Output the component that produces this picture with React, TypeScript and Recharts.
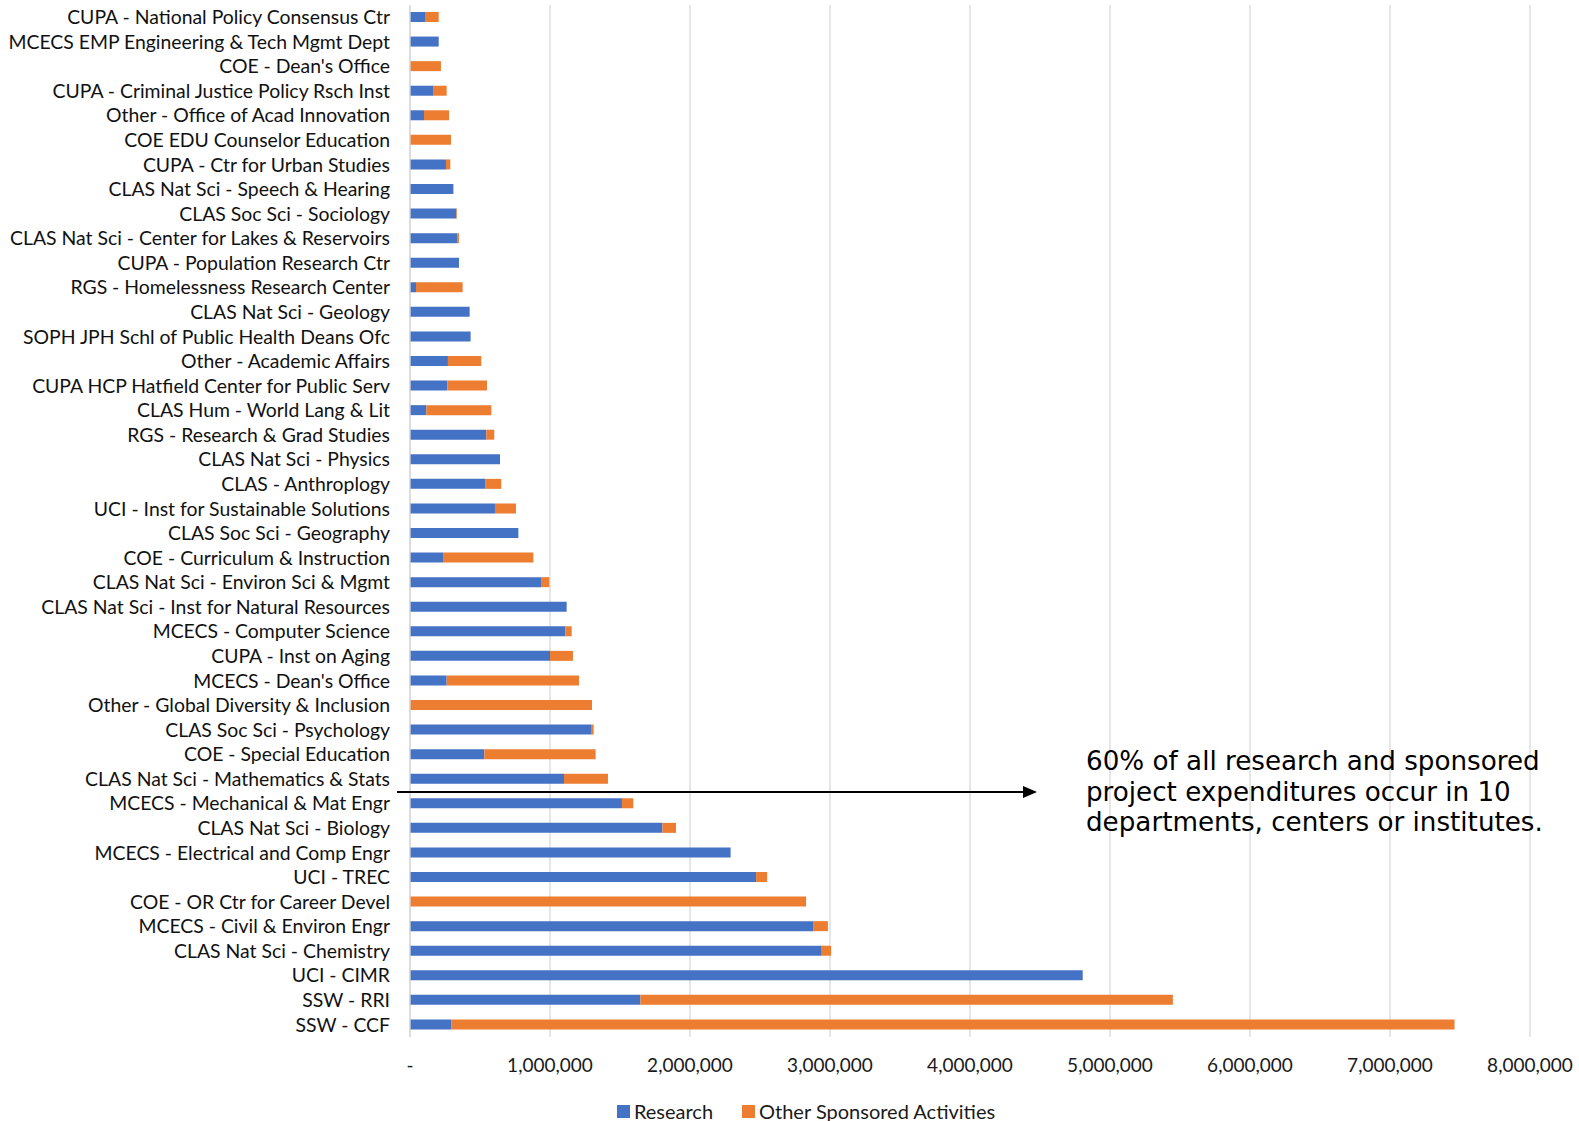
import React from 'react';
import { BarChart, Bar, XAxis, YAxis, CartesianGrid, Legend } from 'recharts';

const categories: string[] = [
  'CUPA - National Policy Consensus Ctr',
  'MCECS EMP Engineering & Tech Mgmt Dept',
  "COE - Dean's Office",
  'CUPA - Criminal Justice Policy Rsch Inst',
  'Other - Office of Acad Innovation',
  'COE EDU Counselor Education',
  'CUPA - Ctr for Urban Studies',
  'CLAS Nat Sci - Speech & Hearing',
  'CLAS Soc Sci - Sociology',
  'CLAS Nat Sci - Center for Lakes & Reservoirs',
  'CUPA - Population Research Ctr',
  'RGS - Homelessness Research Center',
  'CLAS Nat Sci - Geology',
  'SOPH JPH Schl of Public Health Deans Ofc',
  'Other - Academic Affairs',
  'CUPA HCP Hatfield Center for Public Serv',
  'CLAS Hum - World Lang & Lit',
  'RGS - Research & Grad Studies',
  'CLAS Nat Sci - Physics',
  'CLAS - Anthroplogy',
  'UCI - Inst for Sustainable Solutions',
  'CLAS Soc Sci - Geography',
  'COE - Curriculum & Instruction',
  'CLAS Nat Sci - Environ Sci & Mgmt',
  'CLAS Nat Sci - Inst for Natural Resources',
  'MCECS - Computer Science',
  'CUPA - Inst on Aging',
  "MCECS - Dean's Office",
  'Other - Global Diversity & Inclusion',
  'CLAS Soc Sci - Psychology',
  'COE - Special Education',
  'CLAS Nat Sci - Mathematics & Stats',
  'MCECS - Mechanical & Mat Engr',
  'CLAS Nat Sci - Biology',
  'MCECS - Electrical and Comp Engr',
  'UCI - TREC',
  'COE - OR Ctr for Career Devel',
  'MCECS - Civil & Environ Engr',
  'CLAS Nat Sci - Chemistry',
  'UCI - CIMR',
  'SSW - RRI',
  'SSW - CCF',
];

const research: number[] = [
  107000, 205000, 0, 169000, 100000, 0, 257000, 310000, 331000, 340000,
  350000, 43000, 426000, 433000, 271000, 267000, 117000, 545000, 643000, 540000,
  607000, 774000, 236000, 936000, 1119000, 1110000, 1000000, 262000, 0, 1293000,
  531000, 1100000, 1514000, 1803000, 2290000, 2472000, 0, 2883000, 2941000, 4805000,
  1646000, 294000,
];

const otherSponsored: number[] = [
  98000, 0, 221000, 93000, 179000, 293000, 31000, 0, 5000, 10000,
  0, 333000, 0, 0, 238000, 283000, 464000, 57000, 0, 112000,
  150000, 0, 645000, 59000, 0, 45000, 164000, 945000, 1300000, 19000,
  795000, 314000, 81000, 97000, 0, 79000, 2829000, 102000, 67000, 0,
  3803000, 7167000,
];

const xTicks: number[] = [0, 1000000, 2000000, 3000000, 4000000, 5000000, 6000000, 7000000, 8000000];

const seriesNames = { research: 'Research', other: 'Other Sponsored Activities' };
const annotationLines: string[] = [
  '60% of all research and sponsored',
  'project expenditures occur in 10',
  'departments, centers or institutes.',
];

const BLUE = '#4472C4';
const ORANGE = '#ED7D31';
const FONT = 'Lato, "Open Sans", sans-serif';

const data = categories.map((name, i) => ({
  name,
  research: research[i],
  other: otherSponsored[i],
}));

const formatTick = (v: number) => (v === 0 ? '-' : v.toLocaleString('en-US'));

const LegendContent = () => (
  <div
    style={{
      display: 'flex',
      justifyContent: 'center',
      alignItems: 'center',
      fontFamily: FONT,
      fontSize: 20,
      color: '#1a1a1a',
      paddingLeft: 33,
    }}
  >
    <span style={{ display: 'inline-block', width: 13, height: 13, background: BLUE, marginRight: 4 }} />
    <span style={{ marginRight: 29 }}>{seriesNames.research}</span>
    <span style={{ display: 'inline-block', width: 13, height: 13, background: ORANGE, marginRight: 4 }} />
    <span>{seriesNames.other}</span>
  </div>
);

export default function App() {
  return (
    <div style={{ position: 'absolute', left: 0, top: 0, width: 1579, height: 1121, background: '#fff' }}>
      <BarChart
        width={1579}
        height={1121}
        data={data}
        layout="vertical"
        margin={{ top: 5, right: 49, left: 0, bottom: 44 }}
        barSize={10}
      >
        <CartesianGrid horizontal={false} stroke="#d9d9d9" strokeWidth={1.3} />
        <XAxis
          type="number"
          domain={[0, 8000000]}
          ticks={xTicks}
          tickFormatter={formatTick}
          axisLine={false}
          tickLine={false}
          tickSize={6}
          tickMargin={16}
          height={40}
          interval={0}
          tick={{ fontFamily: FONT, fontSize: 19, fill: '#1a1a1a' }}
        />
        <YAxis
          type="category"
          dataKey="name"
          width={410}
          interval={0}
          tickLine={false}
          tickSize={0}
          tickMargin={20}
          axisLine={{ stroke: '#d9d9d9', strokeWidth: 1.3 }}
          tick={{ fontFamily: FONT, fontSize: 19.4, fill: '#111' }}
        />
        <Legend
          layout="horizontal"
          verticalAlign="middle"
          align="center"
          wrapperStyle={{ top: 1099, left: 0, width: 1579 }}
          content={<LegendContent />}
        />
        <Bar dataKey="research" name={seriesNames.research} stackId="a" fill={BLUE} isAnimationActive={false} />
        <Bar dataKey="other" name={seriesNames.other} stackId="a" fill={ORANGE} isAnimationActive={false} />
      </BarChart>
      <svg
        width={1579}
        height={1121}
        style={{ position: 'absolute', left: 0, top: 0, pointerEvents: 'none' }}
      >
        <line x1={397} y1={792} x2={1026} y2={792} stroke="#000" strokeWidth={2} />
        <polygon points="1037,792 1023,786 1023,798" fill="#000" />
      </svg>
      <div
        style={{
          position: 'absolute',
          left: 1086,
          top: 746,
          fontFamily: '"DejaVu Sans", Verdana, sans-serif',
          fontSize: 26.2,
          lineHeight: '30.5px',
          color: '#000',
          whiteSpace: 'nowrap',
        }}
      >
        {annotationLines.map((l, i) => (
          <div key={i}>{l}</div>
        ))}
      </div>
    </div>
  );
}
